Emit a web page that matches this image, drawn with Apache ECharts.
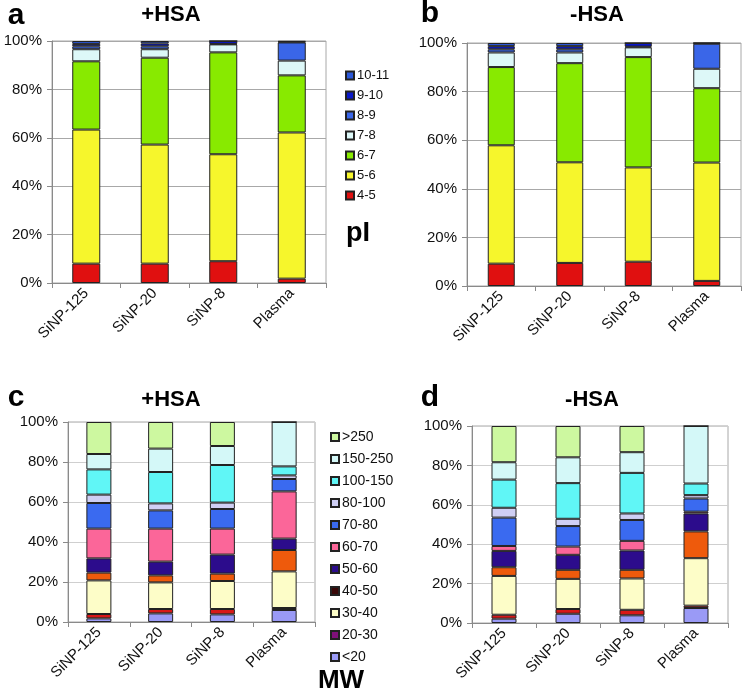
<!DOCTYPE html>
<html>
<head>
<meta charset="utf-8">
<script src="https://cdn.jsdelivr.net/npm/echarts@6/dist/echarts.min.js"></script>
<style>
  html, body { margin: 0; padding: 0; background: #fff; }
  #chart { width: 742px; height: 695px; }
</style>
</head>
<body>
<div id="chart"></div>
<script>
// samples on the x axis
const samples = ['SiNP-125', 'SiNP-20', 'SiNP-8', 'Plasma'];
const yTicks = [0, 20, 40, 60, 80, 100];

// pI ranges, bottom of the stack first
const piNames = ['4-5', '5-6', '6-7', '7-8', '8-9', '9-10', '10-11'];
const piColors = ['#e01010', '#f6f62c', '#88ea00', '#ddf8f8', '#3a66e8', '#0a18c8', '#2c58d8'];

// percent per pI range (one array per range, values for each sample)
const piPlus = [
  [8.0, 8.0, 9.0, 1.8],
  [55.4, 49.2, 44.2, 60.4],
  [28.2, 35.9, 42.1, 23.6],
  [5.0, 3.5, 3.3, 6.1],
  [1.2, 1.2, 0.2, 7.5],
  [1.0, 1.2, 1.2, 0.3],
  [1.2, 1.0, 0.0, 0.3]
];
const piMinus = [
  [9.2, 9.5, 10.0, 2.1],
  [48.7, 41.4, 38.8, 48.7],
  [32.2, 40.8, 45.4, 30.6],
  [6.0, 4.4, 4.0, 8.0],
  [1.3, 1.3, 0.3, 10.3],
  [1.3, 1.3, 1.5, 0.3],
  [1.3, 1.3, 0.0, 0.0]
];

// MW ranges, bottom of the stack first
const mwNames = ['<20', '20-30', '30-40', '40-50', '50-60', '60-70', '70-80', '80-100', '100-150', '150-250', '>250'];
const mwColors = ['#9a9af6', '#d81818', '#fdfdc8', '#ee5a0c', '#2c0c8c', '#fb6699', '#3a6af0', '#cfcff4', '#60f6f6', '#d4f8f8', '#cdf8a0'];
const mwLegendColors = ['#9a9af6', '#80107a', '#fdfdc8', '#3a0808', '#2c0c8c', '#fb6699', '#3a6af0', '#cfcff4', '#60f6f6', '#d4f8f8', '#cdf8a0'];

const mwPlus = [
  [1.8, 4.3, 3.8, 6.0],
  [2.2, 2.2, 2.7, 1.0],
  [16.8, 13.3, 14.0, 18.3],
  [3.9, 3.5, 3.7, 10.7],
  [7.1, 6.9, 9.5, 5.7],
  [14.9, 16.5, 13.0, 23.6],
  [12.8, 9.1, 9.8, 6.2],
  [4.2, 3.5, 3.2, 1.8],
  [12.6, 15.7, 18.8, 4.5],
  [7.7, 11.7, 9.5, 22.2],
  [16.0, 13.3, 12.0, 0.0]
];
const mwMinus = [
  [2.2, 4.7, 3.9, 7.6],
  [2.0, 2.4, 2.8, 1.2],
  [19.7, 15.3, 15.9, 24.1],
  [4.4, 4.6, 4.4, 13.6],
  [8.3, 7.6, 9.8, 9.1],
  [2.5, 4.2, 4.9, 0.9],
  [14.4, 10.4, 10.6, 6.7],
  [5.0, 3.7, 3.3, 1.7],
  [14.3, 18.1, 20.6, 5.9],
  [8.8, 13.1, 10.5, 29.2],
  [18.4, 15.9, 13.3, 0.0]
];

const font = '"Liberation Sans", Arial, sans-serif';

const grids = [
  { left: 52, top: 41, width: 274, height: 242 },
  { left: 467, top: 43, width: 274, height: 243 },
  { left: 68, top: 422, width: 247, height: 200 },
  { left: 472, top: 426, width: 256, height: 197 }
];
const barWidths = [28, 27, 25, 25];
const gridLineColors = ['#a8a8a8', '#a8a8a8', '#cfcfcf', '#cfcfcf'];

const chart = echarts.init(document.getElementById('chart'));

const xAxes = grids.map((g, i) => ({
  type: 'category',
  gridIndex: i,
  data: samples,
  axisLine: { lineStyle: { color: '#8a8a8a' } },
  axisTick: { show: true, length: 5, lineStyle: { color: '#8a8a8a' } },
  axisLabel: { rotate: 45, margin: 8, fontSize: 15, color: '#111', fontFamily: font }
}));

const yAxes = grids.map((g, i) => ({
  type: 'value',
  gridIndex: i,
  min: yTicks[0],
  max: yTicks[yTicks.length - 1],
  interval: yTicks[1] - yTicks[0],
  axisLine: { show: true, lineStyle: { color: '#8a8a8a' } },
  axisTick: { show: true, length: 5, lineStyle: { color: '#8a8a8a' } },
  axisLabel: { formatter: '{value}%', fontSize: 15, color: '#111', margin: 10, fontFamily: font },
  splitLine: { lineStyle: { color: gridLineColors[i] } }
}));

function stackSeries(names, colors, values, panel) {
  return names.map((name, k) => ({
    name: name,
    type: 'bar',
    stack: 'p' + panel,
    xAxisIndex: panel,
    yAxisIndex: panel,
    barWidth: barWidths[panel],
    data: values[k],
    itemStyle: { color: colors[k], borderColor: '#222', borderWidth: 1 }
  }));
}

const series = [].concat(
  stackSeries(piNames, piColors, piPlus, 0),
  stackSeries(piNames, piColors, piMinus, 1),
  stackSeries(mwNames, mwColors, mwPlus, 2),
  stackSeries(mwNames, mwColors, mwMinus, 3)
);

function label(text, x, y, size) {
  return {
    type: 'text', x: x, y: y,
    style: { text: text, font: 'bold ' + size + 'px ' + font, fill: '#000', align: 'center', verticalAlign: 'middle' }
  };
}

chart.setOption({
  animation: false,
  grid: grids.map(g => Object.assign({ show: true, borderColor: '#a8a8a8', borderWidth: 1 }, g)),
  xAxis: xAxes,
  yAxis: yAxes,
  legend: [
    {
      orient: 'vertical', left: 340, top: 64,
      itemWidth: 8, itemHeight: 8, itemGap: 7, icon: 'rect',
      textStyle: { fontSize: 13, lineHeight: 13, color: '#111', fontFamily: font, padding: [0, 0, 0, -2] },
      data: piNames.slice().reverse()
    },
    {
      orient: 'vertical', left: 325, top: 425,
      itemWidth: 8, itemHeight: 8, itemGap: 8, icon: 'rect',
      textStyle: { fontSize: 14, lineHeight: 14, color: '#111', fontFamily: font, padding: [0, 0, 0, -2] },
      data: mwNames.map((n, k) => ({ name: n, itemStyle: { color: mwLegendColors[k] } })).reverse()
    }
  ],
  graphic: [
    label('a', 16, 16, 30),
    label('+HSA', 171, 15, 22),
    label('b', 430, 14, 30),
    label('-HSA', 597, 15, 22),
    label('c', 16, 398, 30),
    label('+HSA', 171, 400, 22),
    label('d', 430, 398, 30),
    label('-HSA', 592, 400, 22),
    label('pI', 358, 234, 27),
    label('MW', 341, 681, 26)
  ],
  series: series
});
</script>
</body>
</html>
